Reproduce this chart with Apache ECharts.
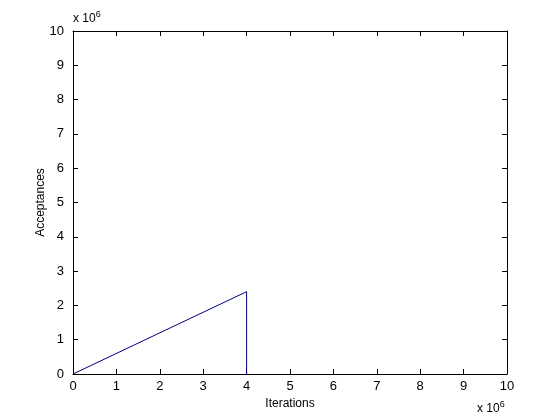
<!DOCTYPE html>
<html><head><meta charset="utf-8">
<script src="https://cdn.jsdelivr.net/npm/echarts@6/dist/echarts.min.js"></script>
<style>html,body{margin:0;padding:0;background:#fff}#c{width:560px;height:420px}</style>
</head><body><div id="c"></div>
<script>
// values in units of 10^6
const iterations = [0, 4, 4];
const acceptances = [0, 2.4, 0];
const xTicks = [0,1,2,3,4,5,6,7,8,9,10];
const yTicks = [0,1,2,3,4,5,6,7,8,9,10];

const chart = echarts.init(document.getElementById('c'));
const font = 'Liberation Sans, Arial, sans-serif';
function axisCommon() {
  return {
    type: 'value', min: 0, max: 10, interval: 1,
    axisLine: {show: true, onZero: false, lineStyle: {color: '#000', width: 1}},
    axisTick: {show: true, inside: true, length: 5, lineStyle: {color: '#000'}},
    splitLine: {show: false}
  };
}
chart.setOption({
  backgroundColor: '#fff',
  animation: false,
  grid: {left: 73, right: 53, top: 31, bottom: 46, show: false},
  xAxis: [
    Object.assign(axisCommon(), {position: 'bottom',
      name: 'Iterations', nameLocation: 'middle', nameGap: 23,
      nameTextStyle: {color: '#000', fontSize: 12, fontFamily: font},
      axisLabel: {color: '#000', fontSize: 13, fontFamily: font, margin: 6,
        formatter: v => xTicks.includes(v) ? String(v) : ''}}),
    Object.assign(axisCommon(), {position: 'top', axisLabel: {show: false}})
  ],
  yAxis: [
    Object.assign(axisCommon(), {position: 'left',
      name: 'Acceptances', nameLocation: 'middle', nameGap: 26, nameMoveOverlap: false,
      nameTextStyle: {color: '#000', fontSize: 12, fontFamily: font},
      axisLabel: {color: '#000', fontSize: 13, fontFamily: font, margin: 9,
        formatter: v => yTicks.includes(v) ? String(v) : ''}}),
    Object.assign(axisCommon(), {position: 'right', axisLabel: {show: false}})
  ],
  graphic: [
    {type: 'text', left: 73, top: 10, style: {
      text: 'x 10{s|6}', fill: '#000', font: '12px ' + font,
      rich: {s: {fontSize: 9, verticalAlign: 'top', padding: [0,0,8,0]}}}},
    {type: 'text', left: 477, top: 400, style: {
      text: 'x 10{s|6}', fill: '#000', font: '12px ' + font,
      rich: {s: {fontSize: 9, verticalAlign: 'top', padding: [0,0,8,0]}}}}
  ],
  series: [{
    type: 'line', xAxisIndex: 0, yAxisIndex: 0,
    data: iterations.map((x, i) => [x, acceptances[i]]),
    showSymbol: false, symbol: 'none',
    lineStyle: {color: '#000080', width: 1},
    itemStyle: {color: '#000080'}
  }]
});
</script></body></html>
